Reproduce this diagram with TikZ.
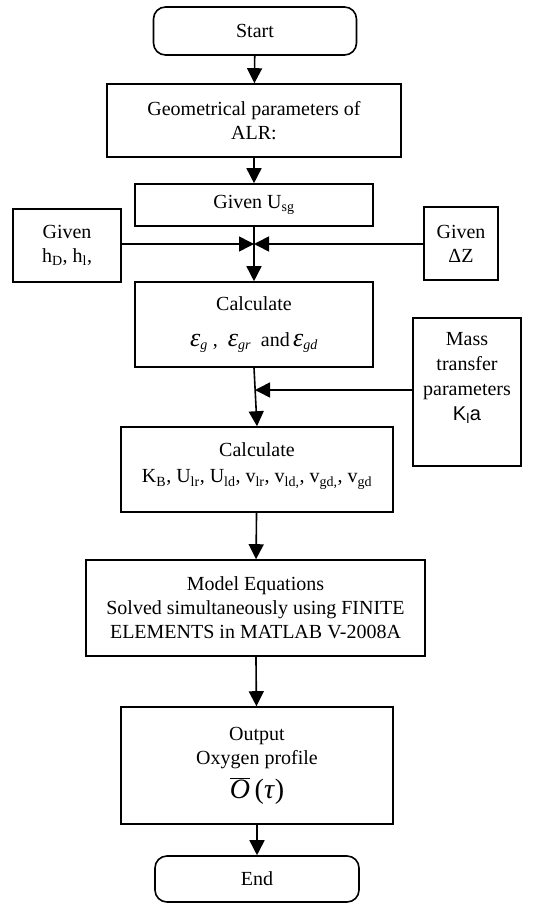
\documentclass[tikz,border=0pt]{standalone}
\usepackage{fontspec}
\setmainfont{Liberation Serif}
\setsansfont{Liberation Sans}
\usetikzlibrary{arrows.meta}

\newcommand{\epsl}[1]{{\fontsize{26}{24}\selectfont\itshape ε}\textsubscript{\itshape #1}}

\tikzset{
  box/.style={draw, line width=1.6pt, inner sep=0pt, align=center, font=\fontsize{20}{24}\selectfont},
  term/.style={box, rounded corners=12pt},
  flow/.style={-{Triangle[length=15pt,width=15pt]}, line width=1.6pt},
}

\begin{document}
\begin{tikzpicture}[x=1pt,y=-1pt]
    \useasboundingbox (0,0) rectangle (555,904);

    % terminals
    \node[term, minimum width=203pt, minimum height=48pt] (start) at (255,31) {Start};
    \node[term, minimum width=204pt, minimum height=46pt] (end) at (257,879) {End};

    % main column
    \node[box, minimum width=294pt, minimum height=73pt] (geom) at (254,120.5) {Geometrical parameters of\\ALR:};
    \node[box, minimum width=238pt, minimum height=42pt] (usg) at (254,205) {Given U\textsubscript{sg}};
    \node[box, minimum width=238pt, minimum height=85pt] (calc) at (254,324.5) {Calculate\\[12pt]\epsl{g} ,\ \ \epsl{gr}\ \ and\,\epsl{gd}};
    \node[box, minimum width=272pt, minimum height=85pt] (calcb) at (257,469.5) {Calculate\\[2pt]K\textsubscript{B}, U\textsubscript{lr}, U\textsubscript{ld}, v\textsubscript{lr}, v\textsubscript{ld,}, v\textsubscript{gd,}, v\textsubscript{gd}\\[-11pt]};
    \node[box, minimum width=339pt, minimum height=96pt] (model) at (255.5,608) {Model Equations\\Solved simultaneously using FINITE\\ELEMENTS in MATLAB V-2008A};
    \node[box, minimum width=272pt, minimum height=117pt] (output) at (257,765.5) {Output\\Oxygen profile\\[8pt]{\fontsize{28}{24}\selectfont$\overline{\mbox{\itshape O}}$\,(\textit{τ})}};

    % side inputs
    \node[box, minimum width=108pt, minimum height=73pt] (hgiven) at (67,245.5) {Given\\h\textsubscript{D}, h\textsubscript{l},};
    \node[box, minimum width=74pt, minimum height=73pt] (zgiven) at (461,243.5) {Given\\ΔZ};
    \node[box, minimum width=108pt, minimum height=148pt] (mass) at (467,392) {};
    \node[align=center, font=\fontsize{20}{25}\selectfont] (masstext) at (467,378) {Mass\\transfer\\parameters\\{\sffamily K\textsubscript{l}a}};

    % junctions
    \coordinate (jtop) at (254,244);
    \coordinate (jmid) at (255,390);

    % connectors
    \draw[flow] (start) -- (geom);
    \draw[flow] (geom) -- (usg);
    \draw[flow] (usg) -- (calc);
    \draw[flow] (hgiven.east |- jtop) -- (jtop);
    \draw[flow] (zgiven.west |- jtop) -- (jtop);
    \draw[flow] (calc.south) -- (calcb.north);
    \draw[flow] (mass.west |- jmid) -- (jmid);
    \draw[flow] (calcb) -- (model);
    \draw[flow] (model) -- (output);
    \draw[flow] (output) -- (end);
\end{tikzpicture}
\end{document}
